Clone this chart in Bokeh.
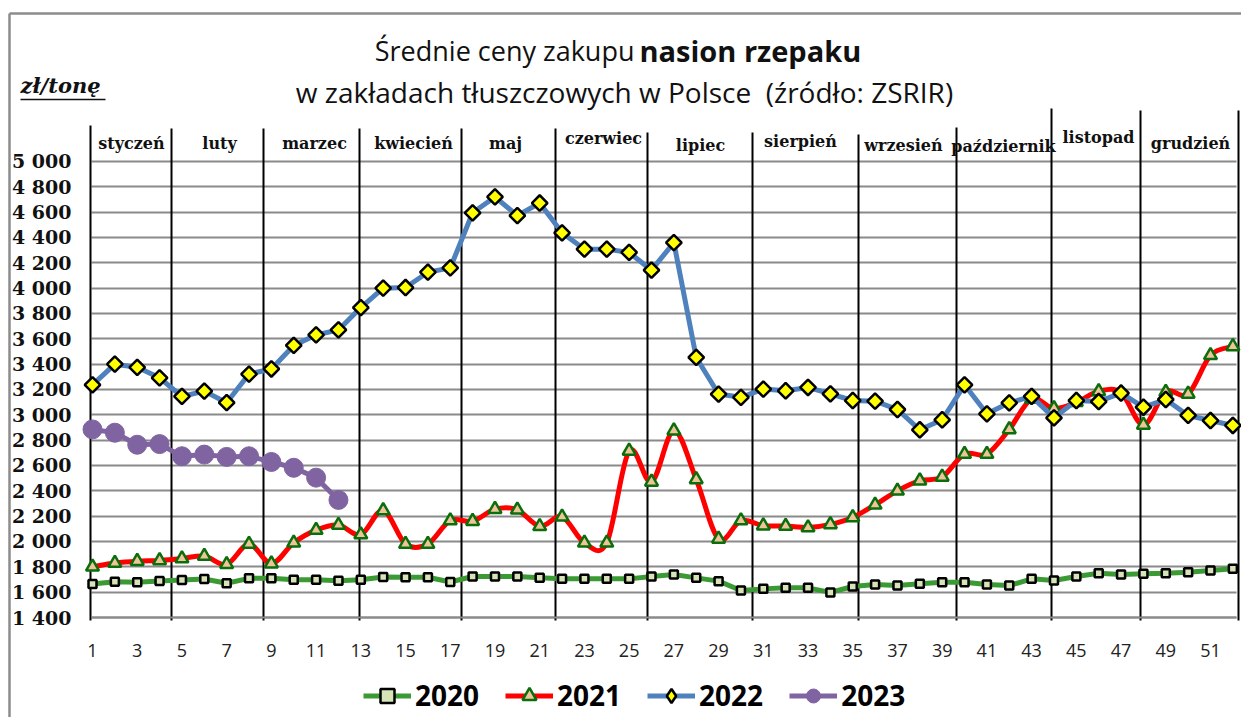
import numpy as np
from bokeh.plotting import figure
from bokeh.models import (ColumnDataSource, FixedTicker, Label, Legend, LegendItem, Range1d)
from bokeh.core.properties import value
from bokeh.embed import file_html
from bokeh.resources import INLINE

# ---------------- data ----------------
weeks = list(range(1, 53))
y2020 = [1665, 1683, 1678, 1688, 1696, 1704, 1670, 1709, 1709, 1698, 1698, 1690, 1698,
         1720, 1718, 1718, 1680, 1724, 1724, 1724, 1713, 1705, 1705, 1705, 1705, 1724,
         1740, 1713, 1687, 1613, 1626, 1634, 1634, 1598, 1645, 1660, 1652, 1666, 1679,
         1679, 1660, 1652, 1705, 1692, 1724, 1750, 1740, 1745, 1750, 1758, 1771, 1784]
y2021 = [1800, 1830, 1845, 1850, 1865, 1885, 1820, 1980, 1825, 1990, 2090, 2130, 2055,
         2245, 1980, 1980, 2165, 2160, 2255, 2250, 2120, 2195, 1990, 1990, 2715, 2470,
         2875, 2490, 2020, 2165, 2125, 2122, 2110, 2135, 2190, 2290, 2400, 2480, 2510,
         2690, 2690, 2885, 3125, 3050, 3100, 3185, 3175, 2920, 3180, 3165, 3470, 3540]
y2022 = [3236, 3400, 3375, 3292, 3145, 3187, 3096, 3322, 3362, 3548, 3631, 3670, 3847,
         4000, 4005, 4126, 4160, 4595, 4720, 4573, 4672, 4437, 4308, 4308, 4282, 4142,
         4360, 3453, 3164, 3138, 3203, 3190, 3216, 3166, 3113, 3108, 3042, 2882, 2961,
         3237, 3008, 3095, 3145, 2976, 3113, 3105, 3171, 3060, 3121, 2995, 2955, 2916]
weeks2023 = list(range(1, 13))
y2023 = [2885, 2859, 2764, 2769, 2673, 2686, 2668, 2673, 2628, 2582, 2504, 2328]

months = ["styczeń", "luty", "marzec", "kwiecień", "maj", "czerwiec", "lipiec",
          "sierpień", "wrzesień", "październik", "listopad", "grudzień"]
series_names = ["2020", "2021", "2022", "2023"]
y_ticks = list(range(1400, 5001, 200))
x_ticks = list(range(1, 52, 2))

# ---------------- layout (pixel positions on the canvas) ----------------
W, H = 1241, 717
X0_PX, DX_PX = 92.0, 22.36          # pixel of week 1, pixels per week
Y0_PX, DY_PX = 617.0, 0.12667       # pixel of 1400 zł, pixels per zł


def fx(px):
    return 1 + (px - X0_PX) / DX_PX


def fy(py):
    return 1400 + (Y0_PX - py) / DY_PX


month_line_px = [90, 171, 263, 359, 461, 555, 647, 752, 858, 956, 1051, 1140, 1238]
month_line_top_px = [125, 128, 128, 128, 128, 128, 132, 132, 134, 127, 108, 110, 110]
month_label_px = [131, 219, 314, 413, 505, 603, 700, 800, 903, 1003, 1098, 1190]
month_label_py = [143, 143, 143, 143, 143, 138, 145, 141, 145, 146, 137, 143]

p = figure(width=W, height=H, output_backend="svg", toolbar_location=None,
           x_range=Range1d(fx(0), fx(W)), y_range=Range1d(fy(H), fy(0)),
           min_border=0)
p.outline_line_color = None
p.background_fill_color = "white"

# grid (limited to the plotting area)
p.xgrid.grid_line_color = None
p.yaxis.ticker = FixedTicker(ticks=y_ticks)
p.xaxis.ticker = FixedTicker(ticks=x_ticks)
grid_x0, grid_x1 = fx(91), fx(1236)
yg = p.ygrid[0]
if "cross_bounds" in yg.properties():
    yg.cross_bounds = (grid_x0, grid_x1)
    yg.grid_line_color = "#8a8a8a"
    yg.grid_line_width = 2
else:
    yg.grid_line_color = None
    p.segment(x0=[grid_x0] * len(y_ticks), x1=[grid_x1] * len(y_ticks), y0=y_ticks,
              y1=y_ticks, line_color="#8a8a8a", line_width=2)

# axes drawn at fixed data positions inside the canvas
p.yaxis.fixed_location = fx(90)
p.yaxis.bounds = (1400, 5000)
p.yaxis.major_label_overrides = {v: f"{v:,}".replace(",", " ") for v in y_ticks}
p.yaxis.axis_line_color = None
p.yaxis.major_tick_line_color = None
p.yaxis.minor_tick_line_color = None
p.yaxis.major_label_text_font = "DejaVu Serif"
p.yaxis.major_label_text_font_style = "bold"
p.yaxis.major_label_text_font_size = "19px"
p.yaxis.major_label_text_color = "#111111"
p.yaxis.major_label_standoff = 13

p.xaxis.fixed_location = 1400
p.xaxis.bounds = (grid_x0, grid_x1)
p.xaxis.axis_line_color = "#8a8a8a"
p.xaxis.axis_line_width = 2
p.xaxis.major_tick_line_color = None
p.xaxis.minor_tick_line_color = None
p.xaxis.major_label_text_font = "Open Sans"
p.xaxis.major_label_text_font_size = "18px"
p.xaxis.major_label_text_color = "#222222"
p.xaxis.major_label_standoff = 20

# outer frame of the chart (top and left edges)
p.segment(x0=[fx(9), fx(9)], x1=[fx(W + 5), fx(9)], y0=[fy(13), fy(13)],
          y1=[fy(13), fy(H + 5)], line_color="#8c8c8c", line_width=2.5)

# month separators and labels
p.segment(x0=[fx(v) for v in month_line_px], x1=[fx(v) for v in month_line_px],
          y0=[fy(620)] * len(month_line_px), y1=[fy(v) for v in month_line_top_px],
          line_color="black", line_width=2)
p.text(x=[fx(v) for v in month_label_px], y=[fy(v) for v in month_label_py], text=months,
       text_font=value("DejaVu Serif"), text_font_style="bold", text_font_size="16px",
       text_align="center", text_baseline="middle", text_color="#111111")

# series
src20 = ColumnDataSource(dict(x=weeks, y=y2020))
src21 = ColumnDataSource(dict(x=weeks, y=y2021))
src22 = ColumnDataSource(dict(x=weeks, y=y2022))
src23 = ColumnDataSource(dict(x=weeks2023, y=y2023))

# smoothed red line (Catmull-Rom -> cubic Bezier through the data points)
xs = np.array(weeks, dtype=float)
ys = np.array(y2021, dtype=float)
xp = np.concatenate([[xs[0]], xs, [xs[-1]]])
yp = np.concatenate([[ys[0]], ys, [ys[-1]]])
bz = dict(x0=xs[:-1], y0=ys[:-1], x1=xs[1:], y1=ys[1:],
          cx0=xs[:-1] + (xp[2:-1] - xp[0:-3]) / 6, cy0=ys[:-1] + (yp[2:-1] - yp[0:-3]) / 6,
          cx1=xs[1:] - (xp[3:] - xp[1:-2]) / 6, cy1=ys[1:] - (yp[3:] - yp[1:-2]) / 6)

l20 = p.line("x", "y", source=src20, line_color="#3c9a34", line_width=5)
m20 = p.scatter("x", "y", source=src20, marker="square", size=8, fill_color="#d6e4b8",
                line_color="black", line_width=2.5)

p.bezier(x0="x0", y0="y0", x1="x1", y1="y1", cx0="cx0", cy0="cy0", cx1="cx1", cy1="cy1",
         source=ColumnDataSource(bz), line_color="#ff0000", line_width=5)
m21 = p.scatter("x", "y", source=src21, marker="triangle", size=13, fill_color="#f0c49a",
                line_color="#0a6e0a", line_width=2.5)

l22 = p.line("x", "y", source=src22, line_color="#4f81bd", line_width=5)
m22 = p.scatter("x", "y", source=src22, marker="square", angle=np.pi / 4, size=11,
                fill_color="#ffff00", line_color="black", line_width=2.5)

l23 = p.line("x", "y", source=src23, line_color="#8064a2", line_width=5)
m23 = p.scatter("x", "y", source=src23, marker="circle", size=19, fill_color="#8064a2",
                line_color="#8064a2")

# legend samples (empty renderers styled like the series)
leg21 = p.line(x=[np.nan], y=[np.nan], line_color="#ff0000", line_width=5)
leg22 = p.scatter(x=[np.nan], y=[np.nan], marker="diamond", size=11, fill_color="#ffff00",
                  line_color="black", line_width=2.5)

legend = Legend(items=[LegendItem(label=series_names[0], renderers=[l20, m20]),
                       LegendItem(label=series_names[1], renderers=[leg21, m21]),
                       LegendItem(label=series_names[2], renderers=[l22, leg22]),
                       LegendItem(label=series_names[3], renderers=[l23, m23])],
                orientation="horizontal", location=(363, 3),
                label_text_font="Open Sans", label_text_font_style="bold",
                label_text_font_size="28px", label_text_color="black",
                glyph_width=48, glyph_height=35, spacing=26, label_standoff=4,
                border_line_color=None, background_fill_alpha=0, padding=4, margin=0)
p.add_layout(legend, "center")

# title
p.text(x=[fx(634)], y=[fy(50)], text=["Średnie ceny zakupu"], text_font=value("Open Sans"),
       text_font_size="27px", text_align="right", text_baseline="middle", text_color="#111111")
p.text(x=[fx(639)], y=[fy(50)], text=["nasion rzepaku"], text_font=value("Open Sans"),
       text_font_size="29px", text_font_style="bold", text_align="left",
       text_baseline="middle", text_color="#111111")
p.text(x=[fx(624)], y=[fy(91)], text=["w zakładach tłuszczowych w Polsce\u00a0 (źródło: ZSRIR)"],
       text_font=value("Open Sans"), text_font_size="28px", text_align="center",
       text_baseline="middle", text_color="#111111")

# unit label
p.add_layout(Label(x=fx(20), y=fy(85), text="zł/tonę", text_font="DejaVu Serif",
                   text_font_style="bold italic", text_font_size="21px",
                   text_baseline="middle", text_color="#111111"))
p.segment(x0=[fx(20)], x1=[fx(105)], y0=[fy(99)], y1=[fy(99)], line_color="#111111",
          line_width=1.5)

open("out.html", "w").write(file_html(p, INLINE))
